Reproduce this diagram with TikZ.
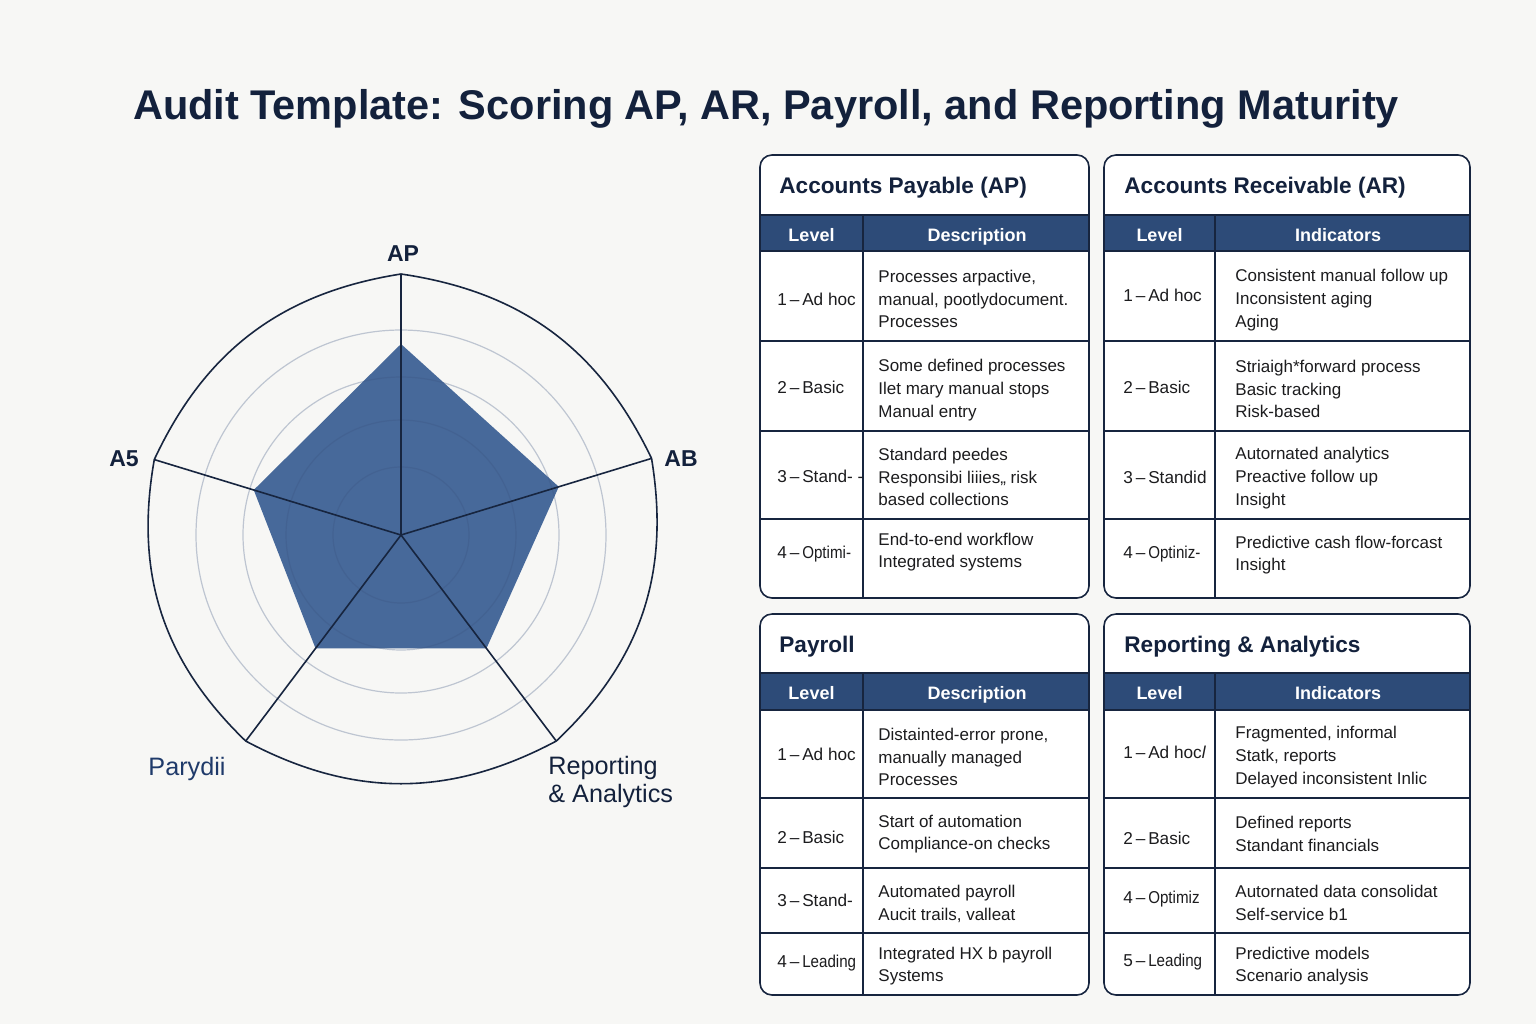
\documentclass[tikz,border=0pt]{standalone}
\usepackage{fontspec}
\setmainfont{Liberation Sans}
\definecolor{bgc}{HTML}{F7F7F5}
\definecolor{navy}{HTML}{17253F}
\definecolor{titlec}{HTML}{13213C}
\definecolor{headc}{HTML}{2D4B78}
\definecolor{polyc}{HTML}{47699A}
\definecolor{ringc}{HTML}{3B5480}
\definecolor{textc}{HTML}{1C1C1E}
\definecolor{pyc}{HTML}{1F3A6A}
\newcommand{\narrowtxt}[1]{\scalebox{0.88}[1]{#1}}
\tikzset{
  navyl/.style={draw=navy, line width=0.75pt},
  boxl/.style={draw=navy, line width=0.8pt, rounded corners=6pt},
  body/.style={anchor=west, align=left, inner sep=0pt, text=textc, font=\fontsize{8.5}{11.3}\selectfont},
  lvl/.style={anchor=west, inner sep=0pt, text=textc, font=\fontsize{8.6}{11}\selectfont},
  headtxt/.style={anchor=base, inner sep=0pt, text=white, font=\bfseries\fontsize{9}{11}\selectfont},
  ttl/.style={anchor=base west, inner sep=0pt, text=titlec, font=\bfseries\fontsize{11.3}{13}\selectfont},
  axlab/.style={anchor=base, inner sep=0pt, text=titlec, font=\bfseries\fontsize{11.5}{13}\selectfont},
}
\begin{document}
\begin{tikzpicture}[x=0.5pt,y=-0.5pt]
\fill[bgc] (0,0) rectangle (1536,1024);

% title
\node[anchor=base, inner sep=0pt, text=titlec, font=\bfseries\fontsize{20.75}{24}\selectfont] (title) at (766,119) {Audit Template: Scoring AP, AR, Payroll, and Reporting Maturity};

% ---------------- radar chart ----------------
\coordinate (c) at (401,535);
\begin{scope}[shift={(401,535)}]
  \coordinate (vAP) at (-90:261);
  \coordinate (vAB) at (-17:262);
  \coordinate (vRA) at (53:258);
  \coordinate (vPY) at (127:258);
  \coordinate (vA5) at (197:258);
  \coordinate (pAP) at (-90:191);
  \coordinate (pAB) at (-17:165);
  \coordinate (pRA) at (53:142);
  \coordinate (pPY) at (127:142);
  \coordinate (pA5) at (197:154);
  \fill[polyc] (pAP) -- (pAB) -- (pRA) -- (pPY) -- (pA5) -- cycle;
  \foreach \r in {68,115,158,205} \draw[ringc, opacity=0.3, line width=0.6pt] (0,0) circle (\r);
\end{scope}
\draw[navy, line width=0.8pt, line join=miter] (vAP) to[bend left=28] (vAB) to[bend left=28] (vRA) to[bend left=28] (vPY) to[bend left=28] (vA5) to[bend left=28] (vAP);
\foreach \v in {vAP,vAB,vRA,vPY,vA5} \draw[navy, line width=0.8pt] (c) -- (\v);

\node[axlab] (lAP) at (403,261) {AP};
\node[axlab] (lAB) at (681,466) {AB};
\node[axlab] (lA5) at (124,466) {A5};
\node[anchor=base, inner sep=0pt, text=pyc, font=\fontsize{12.6}{13}\selectfont] (lPY) at (187,775) {Parydii};
\node[anchor=north west, align=left, inner sep=0pt, text=titlec, font=\fontsize{12.6}{14}\selectfont] (lRA) at (548,756) {Reporting\\\& Analytics};

% ---------------- Accounts Payable ----------------
\fill[white, rounded corners=6pt] (760,155) rectangle (1089,598);
\fill[headc] (760,215) rectangle (1089,251);
\draw[navyl, line width=1pt] (760,215) -- (1089,215);
\draw[navyl] (760,251) -- (1089,251) (760,341) -- (1089,341) (760,431) -- (1089,431) (760,519) -- (1089,519);
\draw[navyl] (863,215) -- (863,598);
\draw[boxl] (760,155) rectangle (1089,598);
\node[ttl] (apT) at (779,193) {Accounts Payable (AP)};
\node[headtxt] (apH1) at (811.5,241) {Level};
\node[headtxt] (apH2) at (977,241) {Description};
\node[lvl] (apL1) at (777,299) {1\,–\,Ad hoc};
\node[lvl] (apL2) at (777,387) {2\,–\,Basic};
\node[lvl] (apL3) at (777,476) {3\,–\,Stand- -};
\node[lvl] (apL4) at (777,554) {4\,–\,\narrowtxt{Optimi-}};
\node[body] (apD1) at (878,299) {Processes arpactive,\\manual, pootlydocument.\\Processes};
\node[body] (apD2) at (878,390) {Some defined processes\\Ilet mary manual stops\\Manual entry};
\node[body] (apD3) at (878,477) {Standard peedes\\Responsibi liiies,, risk\\based collections};
\node[body] (apD4) at (878,552) {End-to-end workflow\\Integrated systems};

% ---------------- Accounts Receivable ----------------
\fill[white, rounded corners=6pt] (1104,155) rectangle (1470,598);
\fill[headc] (1104,215) rectangle (1470,251);
\draw[navyl, line width=1pt] (1104,215) -- (1470,215);
\draw[navyl] (1104,251) -- (1470,251) (1104,341) -- (1470,341) (1104,431) -- (1470,431) (1104,519) -- (1470,519);
\draw[navyl] (1215,215) -- (1215,598);
\draw[boxl] (1104,155) rectangle (1470,598);
\node[ttl] (arT) at (1124,193) {Accounts Receivable (AR)};
\node[headtxt] (arH1) at (1159.5,241) {Level};
\node[headtxt] (arH2) at (1338,241) {Indicators};
\node[lvl] (arL1) at (1123,295) {1\,–\,Ad hoc};
\node[lvl] (arL2) at (1123,387) {2\,–\,Basic};
\node[lvl] (arL3) at (1123,477) {3\,–\,Standid};
\node[lvl] (arL4) at (1123,554) {4\,–\,\narrowtxt{Optiniz-}};
\node[body] (arD1) at (1235,300) {Consistent manual follow up\\Inconsistent aging\\Aging};
\node[body] (arD2) at (1235,389) {Striaigh*forward process\\Basic tracking\\Risk-based};
\node[body] (arD3) at (1235,478) {Autornated analytics\\Preactive follow up\\Insight};
\node[body] (arD4) at (1235,555) {Predictive cash flow-forcast\\Insight};

% ---------------- Payroll ----------------
\fill[white, rounded corners=6pt] (760,614) rectangle (1089,995);
\fill[headc] (760,673) rectangle (1089,710);
\draw[navyl, line width=1pt] (760,673) -- (1089,673);
\draw[navyl] (760,710) -- (1089,710) (760,798) -- (1089,798) (760,868) -- (1089,868) (760,933) -- (1089,933);
\draw[navyl] (863,673) -- (863,995);
\draw[boxl] (760,614) rectangle (1089,995);
\node[ttl] (pyT) at (779,652) {Payroll};
\node[headtxt] (pyH1) at (811.5,699) {Level};
\node[headtxt] (pyH2) at (977,699) {Description};
\node[lvl] (pyL1) at (777,754) {1\,–\,Ad hoc};
\node[lvl] (pyL2) at (777,837) {2\,–\,Basic};
\node[lvl] (pyL3) at (777,900) {3\,–\,Stand-};
\node[lvl] (pyL4) at (777,963) {4\,–\,\narrowtxt{Leading}};
\node[body] (pyD1) at (878,757) {Distainted-error prone,\\manually managed\\Processes};
\node[body] (pyD2) at (878,834) {Start of automation\\Compliance-on checks};
\node[body] (pyD3) at (878,904) {Automated payroll\\Aucit trails, valleat};
\node[body] (pyD4) at (878,966) {Integrated HX b payroll\\Systems};

% ---------------- Reporting & Analytics ----------------
\fill[white, rounded corners=6pt] (1104,614) rectangle (1470,995);
\fill[headc] (1104,673) rectangle (1470,710);
\draw[navyl, line width=1pt] (1104,673) -- (1470,673);
\draw[navyl] (1104,710) -- (1470,710) (1104,798) -- (1470,798) (1104,868) -- (1470,868) (1104,933) -- (1470,933);
\draw[navyl] (1215,673) -- (1215,995);
\draw[boxl] (1104,614) rectangle (1470,995);
\node[ttl] (raT) at (1124,652) {Reporting \& Analytics};
\node[headtxt] (raH1) at (1159.5,699) {Level};
\node[headtxt] (raH2) at (1338,699) {Indicators};
\node[lvl] (raL1) at (1123,752) {1\,–\,Ad hoc\textit{l}};
\node[lvl] (raL2) at (1123,838) {2\,–\,Basic};
\node[lvl] (raL3) at (1123,899) {4\,–\,\narrowtxt{Optimiz}};
\node[lvl] (raL4) at (1123,962) {5\,–\,\narrowtxt{Leading}};
\node[body] (raD1) at (1235,757) {Fragmented, informal\\Statk, reports\\Delayed inconsistent Inlic};
\node[body] (raD2) at (1235,834) {Defined reports\\Standant financials};
\node[body] (raD3) at (1235,903) {Autornated data consolidat\\Self-service b1};
\node[body] (raD4) at (1235,966) {Predictive models\\Scenario analysis};
\end{tikzpicture}
\end{document}
